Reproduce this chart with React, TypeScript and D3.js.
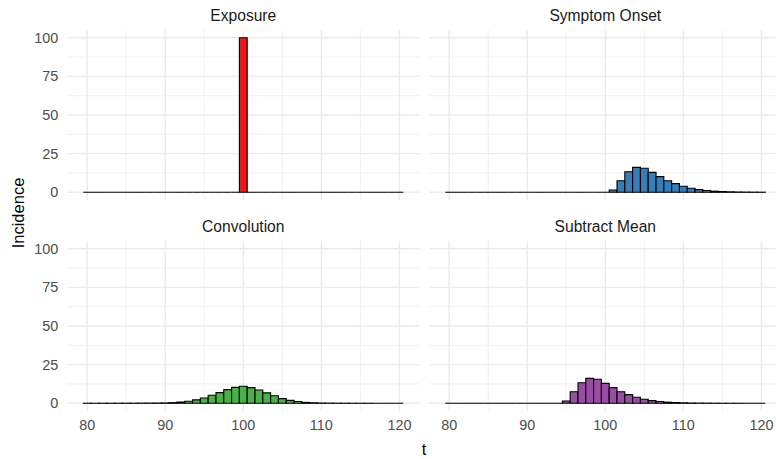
import React from "react";
import * as d3 from "d3";

// t axis categories (days)
const tValues = d3.range(80, 121);

// incidence per panel, one value per t (80..120)
const exposure = [
  0, 0, 0, 0, 0, 0, 0, 0, 0, 0, 0, 0, 0, 0, 0, 0, 0, 0, 0, 0,
  100,
  0, 0, 0, 0, 0, 0, 0, 0, 0, 0, 0, 0, 0, 0, 0, 0, 0, 0, 0, 0,
];
const symptomOnset = [
  0, 0, 0, 0, 0, 0, 0, 0, 0, 0, 0, 0, 0, 0, 0, 0, 0, 0, 0, 0, 0,
  1.5, 7.5, 13.3, 16.1, 15.5, 12.9, 10.1, 7.5, 5.6, 3.9, 2.6, 1.7, 1.1, 0.7,
  0.45, 0.3, 0.18, 0.11, 0.07, 0.04,
];
const convolution = [
  0.01, 0.01, 0.02, 0.02, 0.03, 0.04, 0.06, 0.08, 0.1, 0.15, 0.22, 0.4, 0.75,
  1.3, 2.2, 3.4, 5.2, 6.9, 8.8, 10.3, 11.0, 10.1, 8.6, 6.7, 4.9, 3.0, 1.9, 1.1,
  0.55, 0.3, 0.15, 0.08, 0.05, 0.03, 0.02, 0.01, 0.01, 0, 0, 0, 0,
];
const subtractMean = [
  0, 0, 0, 0, 0, 0, 0, 0, 0, 0, 0, 0, 0, 0, 0,
  1.5, 7.5, 13.3, 16.1, 15.5, 12.9, 10.1, 7.5, 5.6, 3.9, 2.6, 1.7, 1.1, 0.7,
  0.45, 0.3, 0.18, 0.11, 0.07, 0.04, 0.02, 0.01, 0.01, 0, 0, 0,
];

const panelTitles = ["Exposure", "Symptom Onset", "Convolution", "Subtract Mean"];
const panelSeries = [exposure, symptomOnset, convolution, subtractMean];
const panelColors = ["#E41A1C", "#377EB8", "#4DAF4A", "#984EA3"];

const xTicks = [80, 90, 100, 110, 120];
const xMinor = [85, 95, 105, 115];
const yTicks = [0, 25, 50, 75, 100];
const yMinor = [12.5, 37.5, 62.5, 87.5];

const FONT = "'Liberation Sans', Arial, Helvetica, sans-serif";

const App = () => {
  // -- LAYOUT --
  const width = 776;
  const height = 459;
  const colX = [67.3, 429.3];
  const rowY = [30, 241];
  const panelW = 352;
  const panelH = 170;

  // scales shared by all facets (ggplot-ish 5% expansion)
  const x = d3.scaleLinear().domain([77.45, 122.55]).range([0, panelW]);
  const y = d3.scaleLinear().domain([-5, 105]).range([panelH, 0]);

  const grid = "#EBEBEB";

  return (
    <svg
      width={width}
      height={height}
      style={{ position: "absolute", left: 0, top: 0, background: "#fff" }}
      fontFamily={FONT}
    >
      {panelSeries.map((series, i) => {
        const col = i % 2;
        const row = Math.floor(i / 2);
        const ox = colX[col];
        const oy = rowY[row];
        return (
          <g key={panelTitles[i]} transform={`translate(${ox},${oy})`}>
            {/* grid */}
            {yMinor.map((v) => (
              <line key={"ym" + v} x1={0} x2={panelW} y1={y(v)} y2={y(v)} stroke={grid} strokeWidth={0.7} />
            ))}
            {xMinor.map((v) => (
              <line key={"xm" + v} x1={x(v)} x2={x(v)} y1={0} y2={panelH} stroke={grid} strokeWidth={0.7} />
            ))}
            {yTicks.map((v) => (
              <line key={"yM" + v} x1={0} x2={panelW} y1={y(v)} y2={y(v)} stroke={grid} strokeWidth={1.4} />
            ))}
            {xTicks.map((v) => (
              <line key={"xM" + v} x1={x(v)} x2={x(v)} y1={0} y2={panelH} stroke={grid} strokeWidth={1.4} />
            ))}
            {/* bars, drawn as paths so zero-height bars still show their outline */}
            {series.map((v, j) => {
              const t = tValues[j];
              const x0 = x(t - 0.5);
              const x1 = x(t + 0.5);
              const y0 = y(0);
              const y1 = y(v);
              return (
                <path
                  key={t}
                  d={`M${x0},${y0}H${x1}V${y1}H${x0}Z`}
                  fill={panelColors[i]}
                  stroke="#000"
                  strokeWidth={1.1}
                />
              );
            })}
            {/* strip title */}
            <text x={panelW / 2} y={-9.5} textAnchor="middle" fontSize={15.6} fill="#1A1A1A">
              {panelTitles[i]}
            </text>
            {/* y tick labels on left column */}
            {col === 0 &&
              yTicks.map((v) => (
                <text key={"yl" + v} x={-9} y={y(v)} dy="0.35em" textAnchor="end" fontSize={14.4} fill="#4D4D4D">
                  {v}
                </text>
              ))}
            {/* x tick labels on bottom row */}
            {row === 1 &&
              xTicks.map((v) => (
                <text key={"xl" + v} x={x(v)} y={panelH + 14} dy="0.35em" textAnchor="middle" fontSize={14.4} fill="#4D4D4D">
                  {v}
                </text>
              ))}
          </g>
        );
      })}
      {/* axis titles */}
      <text x={424} y={455} textAnchor="middle" fontSize={16.5} fill="#000">
        t
      </text>
      <text
        transform="translate(23.5,213) rotate(-90)"
        textAnchor="middle"
        fontSize={16.5}
        fill="#000"
      >
        Incidence
      </text>
    </svg>
  );
};

export default App;
